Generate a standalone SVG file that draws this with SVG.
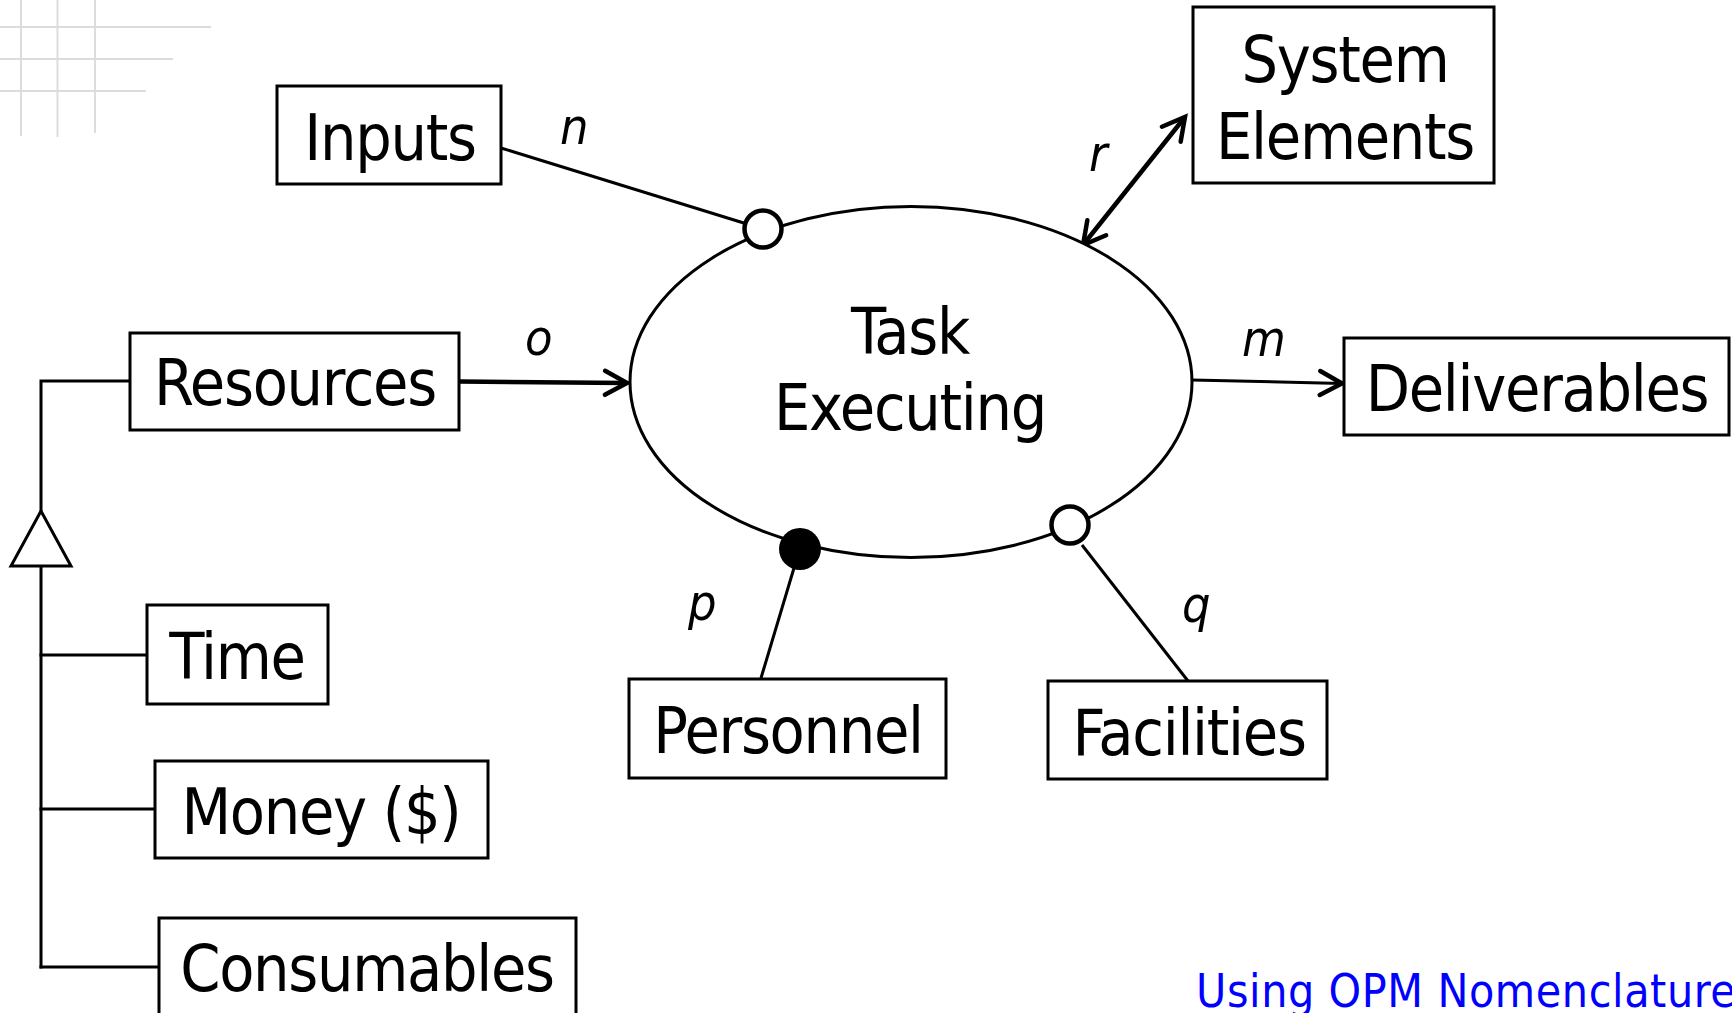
<svg xmlns="http://www.w3.org/2000/svg" width="1732" height="1013" viewBox="0 0 1732 1013">
<style>
.bg{fill:#ffffff}
.grid{stroke:#dcdcdc;stroke-width:2;fill:none}
.box{fill:#ffffff;stroke:#000000;stroke-width:3}
.t{font-family:"DejaVu Sans Condensed","DejaVu Sans",sans-serif;font-stretch:condensed;font-size:64px;letter-spacing:-1.3px;fill:#000000;text-anchor:middle}
.lbl{font-family:"DejaVu Sans Condensed","DejaVu Sans",sans-serif;font-stretch:condensed;font-style:italic;font-size:50px;fill:#000000}
.ln{stroke:#000000;stroke-width:3;fill:none}
.thick{stroke:#000000;stroke-width:4.5;fill:none}
.foot{font-family:"DejaVu Sans Condensed","DejaVu Sans",sans-serif;font-stretch:condensed;font-size:46px;letter-spacing:0.6px;fill:#0000ff}
</style>
<defs>
<marker id="arr" markerUnits="userSpaceOnUse" markerWidth="40" markerHeight="40" viewBox="-30 -20 40 40" refX="0" refY="0" orient="auto-start-reverse">
<path d="M -22 -12 L 0 0 L -22 12" fill="none" stroke="#000000" stroke-width="4.5" stroke-linecap="round" stroke-linejoin="miter"/>
</marker>
</defs>
<rect class="bg" x="0" y="0" width="1732" height="1013"/>
<g id="grid">
<line class="grid" x1="21" y1="0" x2="21" y2="136"/>
<line class="grid" x1="57.5" y1="0" x2="57.5" y2="137"/>
<line class="grid" x1="95" y1="0" x2="95" y2="133"/>
<line class="grid" x1="0" y1="27" x2="211" y2="27"/>
<line class="grid" x1="0" y1="59" x2="173" y2="59"/>
<line class="grid" x1="0" y1="91" x2="146" y2="91"/>
</g>
<g id="connectors">
<line class="ln" x1="501" y1="148" x2="747" y2="224"/>
<line class="thick" x1="459" y1="381.5" x2="627" y2="383" marker-end="url(#arr)"/>
<line class="ln" x1="1192" y1="380" x2="1342" y2="383.5" marker-end="url(#arr)"/>
<line class="thick" x1="1185" y1="117" x2="1083" y2="245" marker-start="url(#arr)" marker-end="url(#arr)"/>
<line class="ln" x1="794" y1="568" x2="761" y2="678"/>
<line class="ln" x1="1082" y1="545" x2="1188" y2="681"/>
<polyline class="ln" points="130,381 41,381 41,511"/>
<polygon class="ln" points="41,511 11,566 71,566"/>
<line class="ln" x1="41" y1="566" x2="41" y2="968.5"/>
<line class="ln" x1="39.5" y1="655" x2="147" y2="655"/>
<line class="ln" x1="39.5" y1="809" x2="155" y2="809"/>
<line class="ln" x1="39.5" y1="967" x2="159" y2="967"/>
</g>
<g id="task-executing">
<ellipse cx="911" cy="382" rx="281" ry="175.5" fill="#ffffff" stroke="#000000" stroke-width="3"/>
<text class="t" x="910" y="354">Task</text>
<text class="t" x="910" y="430">Executing</text>
</g>
<g id="end-inputs"><circle cx="763" cy="229" r="18.5" fill="#ffffff" stroke="#000000" stroke-width="4.5"/></g>
<g id="end-personnel"><circle cx="800" cy="549" r="21" fill="#000000"/></g>
<g id="end-facilities"><circle cx="1070" cy="525" r="18.5" fill="#ffffff" stroke="#000000" stroke-width="4.5"/></g>
<g id="inputs"><rect class="box" x="277" y="86" width="224" height="98"/><text class="t" x="390" y="160">Inputs</text></g>
<g id="system-elements"><rect class="box" x="1193" y="7" width="301" height="176"/><text class="t" x="1345" y="82">System</text><text class="t" x="1345" y="159">Elements</text></g>
<g id="resources"><rect class="box" x="130" y="333" width="329" height="97"/><text class="t" x="295" y="405">Resources</text></g>
<g id="deliverables"><rect class="box" x="1344" y="338" width="385" height="97"/><text class="t" x="1537" y="411">Deliverables</text></g>
<g id="personnel"><rect class="box" x="629" y="679" width="317" height="99"/><text class="t" x="788" y="753">Personnel</text></g>
<g id="facilities"><rect class="box" x="1048" y="681" width="279" height="98"/><text class="t" x="1189" y="755">Facilities</text></g>
<g id="time"><rect class="box" x="147" y="605" width="181" height="99"/><text class="t" x="237" y="679">Time</text></g>
<g id="money"><rect class="box" x="155" y="761" width="333" height="97"/><text class="t" x="321" y="834">Money ($)</text></g>
<g id="consumables"><rect class="box" x="159" y="918" width="417" height="110"/><text class="t" x="367" y="991">Consumables</text></g>
<g id="labels">
<text class="lbl" x="560" y="144">n</text>
<text class="lbl" x="525" y="355">o</text>
<text class="lbl" x="1242" y="356">m</text>
<text class="lbl" x="1089" y="171">r</text>
<text class="lbl" x="688" y="620">p</text>
<text class="lbl" x="1182" y="622">q</text>
</g>
<text class="foot" x="1196" y="1007">Using OPM Nomenclature</text>
</svg>
